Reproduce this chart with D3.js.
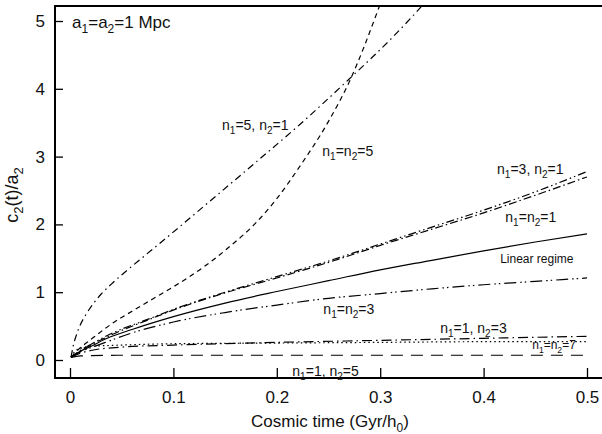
<!DOCTYPE html>
<html>
<head>
<meta charset="utf-8">
<script src="https://cdn.jsdelivr.net/npm/d3@7"></script>
<style>
  body { margin: 0; background: #fff; }
  svg { display: block; font-family: 'Liberation Sans', Arial, Helvetica, sans-serif; }
</style>
</head>
<body>
<div id="chart"></div>
<script>
// curves: [cosmic time, c2(t)/a2]
const n5n1 = [[0.001,0.04],[0.003,0.2],[0.006,0.36],[0.01,0.52],[0.015,0.66],[0.022,0.82],[0.03,0.97],[0.04,1.12],[0.055,1.32],[0.07,1.51],[0.097,1.85],[0.132,2.3],[0.18,2.92],[0.222,3.47],[0.269,4.13],[0.312,4.76],[0.345,5.3]];
const n5n5 = [[0.001,0.04],[0.01,0.18],[0.02,0.3],[0.039,0.52],[0.06,0.72],[0.08,0.9],[0.1,1.08],[0.13,1.38],[0.155,1.68],[0.177,1.98],[0.2,2.38],[0.222,2.85],[0.25,3.52],[0.27,4.1],[0.3,5.25]];
const n3n1 = [[0.001,0.04],[0.01,0.14],[0.02,0.23],[0.04,0.39],[0.077,0.61],[0.106,0.78],[0.15,1.0],[0.2,1.23],[0.25,1.46],[0.3,1.71],[0.35,1.96],[0.4,2.21],[0.45,2.48],[0.5,2.78]];
const n1n1 = [[0.001,0.04],[0.01,0.14],[0.02,0.22],[0.04,0.37],[0.077,0.6],[0.106,0.77],[0.15,0.99],[0.2,1.21],[0.25,1.44],[0.3,1.69],[0.35,1.93],[0.4,2.17],[0.45,2.43],[0.5,2.70]];
const linearRegime = [[0.001,0.04],[0.01,0.13],[0.02,0.2],[0.036,0.32],[0.06,0.45],[0.1,0.64],[0.15,0.84],[0.2,1.01],[0.25,1.17],[0.3,1.33],[0.35,1.47],[0.4,1.61],[0.45,1.74],[0.5,1.86]];
const n3n3 = [[0.001,0.04],[0.01,0.12],[0.02,0.18],[0.036,0.27],[0.06,0.4],[0.1,0.56],[0.15,0.7],[0.2,0.81],[0.25,0.91],[0.3,0.98],[0.35,1.05],[0.4,1.11],[0.45,1.16],[0.5,1.21]];
const n1n3 = [[0.001,0.04],[0.01,0.1],[0.02,0.14],[0.05,0.19],[0.1,0.22],[0.2,0.26],[0.3,0.29],[0.4,0.32],[0.5,0.35]];
const n7n7 = [[0.001,0.04],[0.005,0.13],[0.01,0.17],[0.02,0.2],[0.05,0.22],[0.1,0.24],[0.2,0.25],[0.3,0.26],[0.4,0.27],[0.5,0.27]];
const n1n5 = [[0.001,0.04],[0.01,0.06],[0.05,0.07],[0.5,0.07]];

const xTicks = [0, 0.1, 0.2, 0.3, 0.4, 0.5];
const yTicks = [0, 1, 2, 3, 4, 5];

// annotation text ("_" marks a subscript character) and its anchor in data units
const curveLabels = [
    { text: 'n_1=5, n_2=1', t: 0.147, v: 3.47 },
    { text: 'n_1=n_2=5', t: 0.244, v: 3.08 },
    { text: 'n_1=3, n_2=1', t: 0.413, v: 2.82 },
    { text: 'n_1=n_2=1', t: 0.421, v: 2.11 },
    { text: 'Linear regime', t: 0.416, v: 1.5, small: true },
    { text: 'n_1=n_2=3', t: 0.245, v: 0.75 },
    { text: 'n_1=1, n_2=3', t: 0.358, v: 0.47 },
    { text: 'n_1=n_2=7', t: 0.447, v: 0.22, small: true },
    { text: 'n_1=1, n_2=5', t: 0.215, v: -0.16 },
];

const series = [
    { data: n5n1, dash: '7,4,1.5,4' },
    { data: n5n5, dash: '5,4' },
    { data: n3n1, dash: '8,3,1.5,3,1.5,3' },
    { data: n1n1, dash: '8,3,1.5,3' },
    { data: linearRegime, dash: null },
    { data: n3n3, dash: '12,4,1.5,3,1.5,4' },
    { data: n1n3, dash: '10,4,1.5,4' },
    { data: n7n7, dash: '1.5,3' },
    { data: n1n5, dash: '12,8' },
];

const W = 602, H = 434;
const frame = { left: 55, top: 6, right: 604, bottom: 378 };

const svg = d3.select('#chart').append('svg')
    .attr('width', W).attr('height', H);

const x = d3.scaleLinear().domain([0, 0.5]).range([70, 587]);
const y = d3.scaleLinear().domain([0, 5]).range([360, 21]);

svg.append('clipPath').attr('id', 'plot-clip')
    .append('rect')
    .attr('x', frame.left).attr('y', frame.top)
    .attr('width', frame.right - frame.left)
    .attr('height', frame.bottom - frame.top);

// x axis, ticks pointing inward
const xAxis = svg.append('g')
    .attr('transform', 'translate(0,' + frame.bottom + ')')
    .call(d3.axisBottom(x)
        .tickValues(xTicks)
        .tickFormat(d => d === 0 ? '0' : d3.format('.1f')(d))
        .tickSizeInner(-10)
        .tickSizeOuter(0)
        .tickPadding(13));
xAxis.select('.domain').remove();
xAxis.selectAll('line').attr('stroke', '#000').attr('stroke-width', 1.3);
xAxis.selectAll('text').attr('fill', '#111').attr('font-size', 17);

const yAxis = svg.append('g')
    .attr('transform', 'translate(' + frame.left + ',0)')
    .call(d3.axisLeft(y)
        .tickValues(yTicks)
        .tickFormat(d3.format('d'))
        .tickSizeInner(-8)
        .tickSizeOuter(0)
        .tickPadding(10));
yAxis.select('.domain').remove();
yAxis.selectAll('line').attr('stroke', '#000').attr('stroke-width', 1.3);
yAxis.selectAll('text').attr('fill', '#111').attr('font-size', 17);

// frame: left, top, bottom
svg.append('path')
    .attr('d', `M${frame.right},${frame.top}H${frame.left}V${frame.bottom}H${frame.right}`)
    .attr('fill', 'none')
    .attr('stroke', '#000')
    .attr('stroke-width', 2);

const line = d3.line()
    .curve(d3.curveMonotoneX)
    .x(d => x(d[0]))
    .y(d => y(d[1]));

svg.append('g')
    .attr('clip-path', 'url(#plot-clip)')
    .selectAll('path')
    .data(series)
    .join('path')
    .attr('fill', 'none')
    .attr('stroke', '#000')
    .attr('stroke-width', 1.2)
    .attr('stroke-dasharray', d => d.dash)
    .attr('d', d => line(d.data));

// writes text with "_x" subscripts as tspans
function addRich(sel, text, subSize, shift) {
    const parts = text.split(/(_.)/).filter(p => p);
    let back = 0;
    parts.forEach(p => {
        const sub = p[0] === '_';
        const ts = sel.append('tspan').text(sub ? p[1] : p);
        if (sub) {
            ts.attr('font-size', subSize).attr('dy', shift);
            back = -shift;
        } else if (back) {
            ts.attr('dy', back);
            back = 0;
        }
    });
}

curveLabels.forEach(l => {
    const size = l.small ? 12 : 14;
    const t = svg.append('text')
        .attr('x', x(l.t))
        .attr('y', y(l.v) + size * 0.35)
        .attr('font-size', size)
        .attr('fill', '#111');
    addRich(t, l.text, size * 0.72, size * 0.3);
});

const note = svg.append('text')
    .attr('x', x(0.002))
    .attr('y', y(4.99) + 6)
    .attr('font-size', 17)
    .attr('fill', '#111');
addRich(note, 'a_1=a_2=1 Mpc', 12, 5);

const xTitle = svg.append('text')
    .attr('x', 330)
    .attr('y', 427)
    .attr('text-anchor', 'middle')
    .attr('font-size', 17)
    .attr('fill', '#111');
addRich(xTitle, 'Cosmic time (Gyr/h_0)', 12, 5);

const yTitle = svg.append('text')
    .attr('transform', 'translate(18,195) rotate(-90)')
    .attr('text-anchor', 'middle')
    .attr('font-size', 18)
    .attr('fill', '#111');
addRich(yTitle, 'c_2(t)/a_2', 13, 5);
</script>
</body>
</html>
